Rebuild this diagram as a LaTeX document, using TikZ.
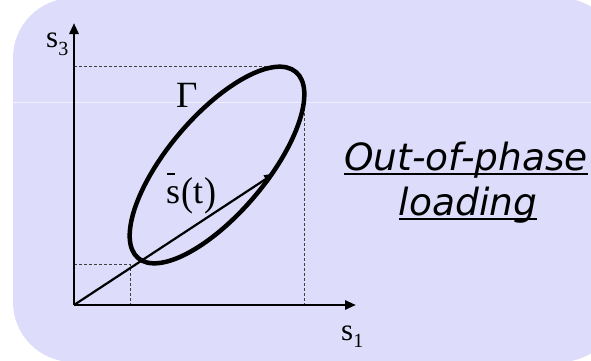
\documentclass[tikz,border=0pt]{standalone}
\usepackage{fontspec}
\setmainfont{Liberation Serif}
\newfontfamily\sansv{DejaVu Sans}
\usetikzlibrary{arrows.meta}
\definecolor{bgl}{RGB}{221,221,251}
\newcommand\myul[1]{\setbox0\hbox{#1}\rlap{\rule[-5.25pt]{\wd0}{2.5pt}}\box0}
\newcommand\tallp[1]{\raisebox{-2pt}{\scalebox{1}[1.12]{#1}}}
\begin{document}
\begin{tikzpicture}[x=1pt,y=1pt,
  axis/.style={line width=2.8pt,-{Triangle[length=11pt,width=9pt]}},
  vec/.style={line width=2.2pt,-{Triangle[length=11pt,width=8pt]}},
  guide/.style={line width=0.9pt,dash pattern=on 3pt off 2pt,black!75},
  curve/.style={line width=4.5pt},
  lbl/.style={inner sep=0pt,anchor=base west},
  title/.style={inner sep=0pt,anchor=base,font=\sansv\itshape\fontsize{37.5}{37.5}\selectfont}]
\useasboundingbox (0,0) rectangle (591,360);
\clip (0,0) rectangle (591,360);
\fill[bgl,rounded corners=60pt] (13,-2) rectangle (620,362);
\draw[white,line width=1pt,opacity=0.6] (13,258) -- (591,258);
% coordinates
\coordinate (O) at (74,55);
\coordinate (Y) at (74,337);
\coordinate (X) at (356,55);
\coordinate (T) at (275,187);
\coordinate (C) at (217,195);
\coordinate (g1) at (74,293.3);
\coordinate (g2) at (279,293.3);
\coordinate (g3) at (304.3,262);
\coordinate (g4) at (304.3,55);
\coordinate (g5) at (74,96);
\coordinate (g6) at (130,96);
\coordinate (g7) at (130,55);
% guides
\draw[guide] (g1) -- (g2);
\draw[guide] (g3) -- (g4);
\draw[guide] (g5) -- (g6) -- (g7);
% axes
\draw[axis] (O) -- (Y);
\draw[axis] (O) -- (X);
% curve
\draw[curve,rotate around={49.7:(C)}] (C) ellipse [x radius=122, y radius=49];
% vector
\draw[vec] (O) -- (T);
% labels
\node[lbl] (s3) at (46,313) {\fontsize{31}{31}\selectfont s\raisebox{-8pt}{\fontsize{20}{20}\selectfont 3}};
\node[lbl] (s1) at (341,20) {\fontsize{31}{31}\selectfont s\raisebox{-7pt}{\fontsize{20}{20}\selectfont 1}};
\node[lbl] (G) at (176,253) {\fontsize{37}{37}\selectfont Γ};
\node[lbl] (st) at (166,157) {\fontsize{36}{36}\selectfont\rlap{\hspace{1pt}\rule[28pt]{8pt}{2pt}}s\hspace{1pt}\tallp{(}t\hspace{1pt}\tallp{)}};
\node[title] (t1) at (466,190) {\myul{Out-of-phase}};
\node[title] (t2) at (468,145) {\myul{loading}};
\end{tikzpicture}
\end{document}
